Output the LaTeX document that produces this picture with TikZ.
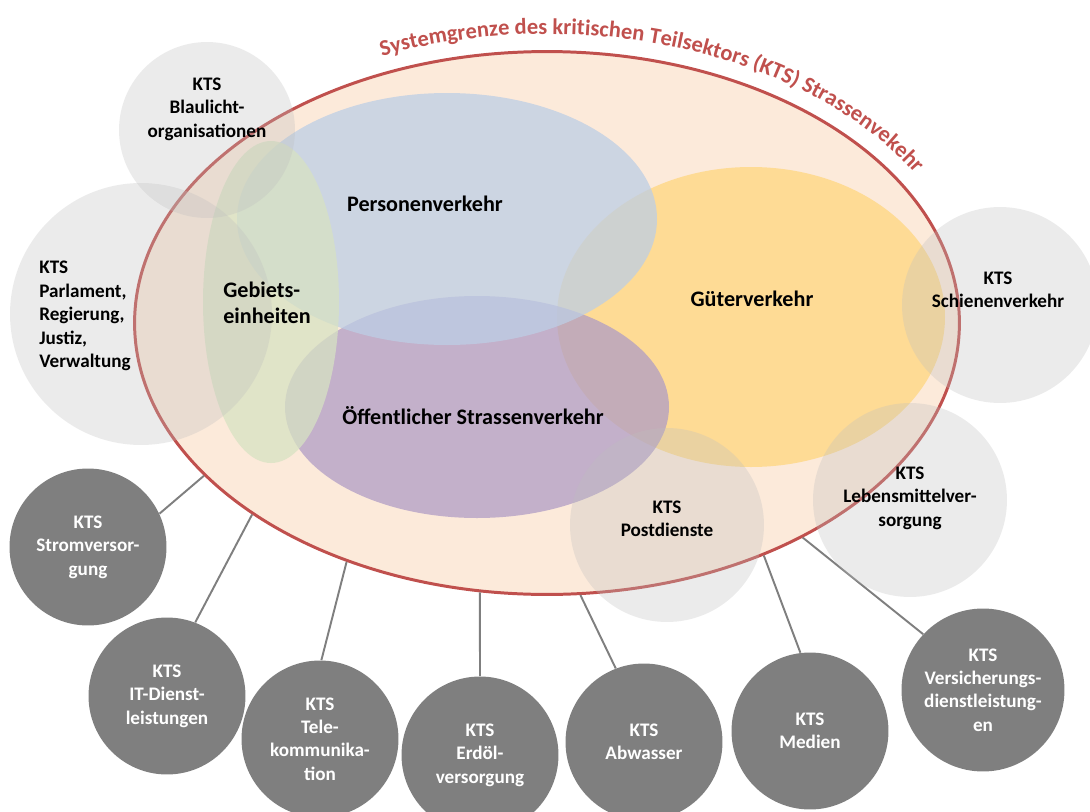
\documentclass[tikz,border=0pt]{standalone}
\usepackage{fontspec}
\setmainfont{Carlito}
\usetikzlibrary{shapes.geometric,decorations.text}

\definecolor{sysred}{RGB}{192,80,77}
\definecolor{sysfill}{RGB}{252,234,218}
\definecolor{gueter}{RGB}{255,214,127}
\definecolor{oev}{RGB}{176,157,197}
\definecolor{personen}{RGB}{189,206,229}
\definecolor{gebiet}{RGB}{215,226,194}
\definecolor{nbrgrey}{RGB}{190,190,190}
\definecolor{ktsgrey}{RGB}{127,127,127}

\newcommand{\ktsfont}{\fontsize{10.9}{13.3}\selectfont\bfseries}
\newcommand{\areafont}{\fontsize{12.6}{14.8}\selectfont\bfseries}
\newcommand{\titlefont}{\fontsize{12.8}{14}\selectfont\bfseries}

\begin{document}
\begin{tikzpicture}[x=0.02cm, y=-0.02cm,
  area/.style={fill opacity=0.75},
  kts/.style={circle, fill=ktsgrey, text=white, font=\ktsfont, align=center, inner sep=0pt},
  nbr/.style={circle, fill=nbrgrey, fill opacity=0.3, inner sep=0pt},
  lbl/.style={font=\ktsfont, align=center},
  conn/.style={draw=ktsgrey, line width=1.1pt}]
  \useasboundingbox (0,0) rectangle (1090,812);
  % Systemgrenze
  \node[ellipse, draw=sysred, fill=sysfill, line width=1.7pt, minimum width=16.5cm, minimum height=10.86cm, inner sep=0pt] (sys) at (547,323) {};
  \path[decorate, decoration={text along path, text align=left, text color=sysred,
      text={|\titlefont|Systemgrenze des kritischen Teilsektors (KTS) Strassenvekehr}}]
    (sys.center) ++(247.4:430 and 289) arc[start angle=247.4, end angle=345, x radius=430, y radius=289];
  % Teilbereiche
  \fill[area, gueter] (751,317) ellipse [x radius=194, y radius=150];
  \fill[area, oev] (477,407) ellipse [x radius=192, y radius=111];
  \fill[area, personen] (447,219) ellipse [x radius=210, y radius=126];
  \fill[area, gebiet] (271,302) ellipse [x radius=68, y radius=161];
  % abhaengige Teilsektoren
  \foreach \n/\x/\y/\d/\t in {
    strom/88/547/3.14/{KTS\\Stromversor-\\gung},
    it/167/696/3.14/{KTS\\IT-Dienst-\\leistungen},
    tele/320/739/3.14/{KTS\\Tele-\\kommunika-\\tion},
    erdoel/480/755/3.14/{KTS\\Erdöl-\\versorgung},
    abwasser/644/742/3.14/{KTS\\Abwasser},
    medien/810/731/3.14/{KTS\\Medien},
    vers/983/690/3.26/{KTS\\Versicherungs-\\dienstleistung-\\en}}
    \node[kts, minimum size=\d cm] (\n) at (\x,\y) {\t};
  \foreach \n/\a/\b in {strom/25/204, it/69/213, tele/89/230, erdoel/90/256,
    abwasser/111/277, medien/97/313, vers/137/320}
    \draw[conn] (\n.\a) -- (sys.\b);
  % ueberlappende Teilsektoren
  \foreach \n/\x/\y/\d in {blaulicht/207/130/3.52, parlament/141/314/5.24,
    schiene/1000/305/3.92, lebensmittel/910/500/3.88, post/667/525/3.88}
    \node[nbr, minimum size=\d cm] (\n) at (\x,\y) {};
  % Beschriftung
  \node[font=\areafont] (personentxt) at (425,204) {Personenverkehr};
  \node[font=\areafont] (guetertxt) at (752,299) {Güterverkehr};
  \node[font=\areafont] (oevtxt) at (473,416) {Öffentlicher Strassenverkehr};
  \node[font=\areafont, align=left, anchor=west, inner sep=0pt] (gebiettxt) at (223,303) {Gebiets-\\einheiten};
  \node[lbl] (blaulichttxt) at (207,109) {KTS\\Blaulicht-\\organisationen};
  \node[lbl, align=left, anchor=west, inner sep=0pt] (parlamenttxt) at (39,316) {KTS\\Parlament,\\Regierung,\\Justiz,\\Verwaltung};
  \node[lbl] (schienetxt) at (998,290) {KTS\\Schienenverkehr};
  \node[lbl] (lebensmitteltxt) at (910,498) {KTS\\Lebensmittelver-\\sorgung};
  \node[lbl] (posttxt) at (667,519) {KTS\\Postdienste};
\end{tikzpicture}
\end{document}
